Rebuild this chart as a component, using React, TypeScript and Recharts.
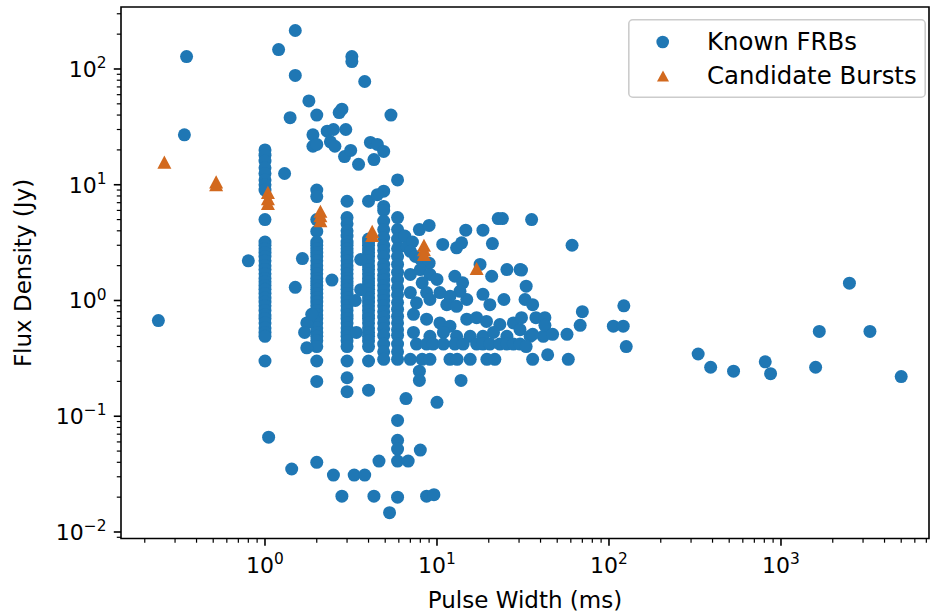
import React from 'react';
import { ScatterChart, Scatter, XAxis, YAxis, ReferenceArea, Legend } from 'recharts';

const BLUE = '#1f77b4';
const ORANGE = '#d2691e';
const FONT = 'DejaVu Sans, sans-serif';

// Known FRBs: dense vertical columns at fixed pulse widths (ms)
const columnWidths = [1.0, 2.0, 3.0, 4.0, 4.9, 5.9];
const columnFluxes = [
  [20, 18, 16, 14, 12.5, 11, 10, 9, 5.0, 3.2, 3.0, 2.8, 2.6, 2.4, 2.2, 2.0, 1.85, 1.7, 1.55, 1.45, 1.35, 1.25, 1.15, 1.05, 0.97, 0.9, 0.82, 0.75, 0.7, 0.64, 0.58, 0.53, 0.49, 0.3],
  [9.0, 7.9, 5.0, 3.95, 3.2, 3.0, 2.8, 2.6, 2.4, 2.2, 2.0, 1.85, 1.7, 1.55, 1.45, 1.35, 1.25, 1.15, 1.05, 0.97, 0.9, 0.82, 0.75, 0.7, 0.64, 0.58, 0.53, 0.49, 0.45, 0.4, 0.3, 0.2, 0.04],
  [7.2, 5.2, 4.6, 4.0, 3.6, 3.2, 3.0, 2.8, 2.6, 2.4, 2.2, 2.0, 1.85, 1.7, 1.55, 1.45, 1.35, 1.25, 1.15, 1.05, 0.97, 0.9, 0.82, 0.75, 0.7, 0.64, 0.58, 0.53, 0.49, 0.45, 0.4, 0.3, 0.215, 0.163],
  [7.2, 3.4, 3.2, 3.0, 2.8, 2.6, 2.4, 2.2, 2.0, 1.85, 1.7, 1.55, 1.45, 1.35, 1.25, 1.15, 1.05, 0.97, 0.9, 0.82, 0.75, 0.7, 0.64, 0.58, 0.53, 0.49, 0.45, 0.4, 0.3, 0.168],
  [8.8, 6.5, 6.0, 4.85, 4.1, 3.5, 3.0, 2.7, 2.4, 2.05, 1.85, 1.65, 1.5, 1.35, 1.22, 1.1, 1.0, 0.9, 0.8, 0.72, 0.64, 0.57, 0.5, 0.42, 0.36, 0.31],
  [11, 5.2, 4.1, 3.4, 2.8, 2.4, 2.05, 1.75, 1.5, 1.29, 1.12, 0.96, 0.84, 0.73, 0.64, 0.56, 0.5, 0.42, 0.36, 0.31, 0.092, 0.062, 0.052, 0.041, 0.02],
];

// Known FRBs: remaining individual points
const knownWidths = [
  0.35, 0.34, 0.24, 1.5, 1.2, 1.5, 1.8, 1.4, 2.0, 2.7, 2.8, 1.9, 1.9, 2.0, 2.3, 2.5, 2.4, 2.55, 2.95, 2.9, 3.15, 3.2, 3.2, 3.8, 5.4, 4.1, 4.5, 4.9, 3.5, 4.3, 4.5, 1.3,
  0.8, 1.65, 1.5, 2.45, 3.35, 3.4, 3.6, 3.6, 1.75, 1.7, 1.75, 1.87,
  6.5, 6.7, 7.2, 7.0, 7.5, 7.9, 9.0, 10.8, 13, 13.9, 14.7, 18.5, 21, 22.7, 24, 35.5, 17.8, 20.8, 25.5, 30.4, 33, 12.7, 14.1, 18.5, 20.3, 24.5, 32.5, 36, 14.9, 13.6,
  8.0, 9.0, 7.0, 8.0, 9.1, 10, 8.2, 7.0, 8.7, 10.4, 11.9, 7.6, 9.1, 11.4, 13, 7.3, 8.7, 10.4, 11.9, 14.9, 17, 19.4, 23.2, 27.8, 30.4, 7.3, 9.1, 10.9, 13, 15.6, 18.5, 21.3, 25.5, 34.8, 41.5,
  7.6, 8.7, 9.5, 10.9, 12.7, 14.2, 17, 18.5, 20.3, 23.2, 25.5, 27.8, 30.4, 33,
  7.0, 8.2, 9.1, 11.9, 13.1, 15.6, 19.5, 21.7, 36, 58,
  7.9, 7.9, 13.8, 6.6, 10, 8.0, 6.8, 4.6, 8.7, 9.6, 5.3, 4.3, 2.8, 2.5, 3.3, 3.8, 1.43, 1.05,
  61, 31, 70, 122, 31, 37.6, 42.4, 42.4, 68, 106, 121, 47, 57, 36, 126, 44,
  330, 390, 530, 810, 870, 1670, 1590, 2500, 3290, 5000,
];
const knownFluxes = [
  128, 27, 0.67, 215, 147, 88, 53, 38, 40, 42, 45, 27, 21.5, 22.3, 29, 30, 23.5, 21.5, 30, 17.5, 19.8, 128, 116, 78, 40, 23.2, 22.3, 19.4, 15, 16.5, 8.2, 12.5,
  2.2, 2.3, 1.3, 1.5, 1.0, 0.53, 2.26, 1.24, 0.64, 0.53, 0.39, 0.76,
  3.6, 2.9, 3.2, 2.66, 2.4, 4.1, 4.45, 3.05, 2.85, 3.15, 4.05, 4.05, 3.1, 5.1, 5.1, 5.0, 2.05, 1.62, 1.85, 1.85, 1.33, 1.62, 1.42, 1.13, 0.92, 1.02, 1.02, 0.92, 1.02, 1.2,
  2.3, 2.1, 1.68, 1.85, 1.68, 1.52, 1.42, 1.17, 1.17, 1.17, 1.09, 0.955, 1.02, 0.92, 0.89, 0.76, 0.69, 0.64, 0.6, 0.69, 0.71, 0.66, 0.62, 0.64, 0.56, 0.53, 0.49, 0.53, 0.49, 0.49, 0.49, 0.53, 0.49, 0.49, 0.49,
  0.42, 0.42, 0.42, 0.42, 0.42, 0.42, 0.42, 0.42, 0.42, 0.42, 0.42, 0.42, 0.42, 0.4,
  0.31, 0.31, 0.31, 0.31, 0.31, 0.31, 0.31, 0.31, 0.31, 0.31,
  0.245, 0.204, 0.204, 0.142, 0.132, 0.051, 0.041, 0.041, 0.0204, 0.021, 0.0147, 0.0204, 0.0204, 0.031, 0.031, 0.031, 0.035, 0.066,
  3.0, 1.83, 0.8, 0.9, 0.71, 0.71, 0.71, 0.61, 0.61, 0.6, 0.6, 0.51, 0.51, 0.51, 0.4, 0.34,
  0.345, 0.265, 0.245, 0.295, 0.233, 0.54, 0.265, 1.41, 0.54, 0.22,
];

// Candidate bursts
const candidateWidths = [0.26, 0.52, 0.52, 1.04, 1.04, 1.04, 2.1, 2.1, 2.1, 4.2, 4.2, 8.4, 8.4, 8.4, 17];
const candidateFluxes = [15.7, 10.6, 10.0, 8.6, 7.6, 6.9, 5.9, 5.4, 4.9, 3.95, 3.65, 3.0, 2.75, 2.5, 1.89];

// Axis ticks
const xMajorTicks = [1, 10, 100, 1000];
const xMinorTicks = [0.2, 0.3, 0.4, 0.5, 0.6, 0.7, 0.8, 0.9, 2, 3, 4, 5, 6, 7, 8, 9, 20, 30, 40, 50, 60, 70, 80, 90, 200, 300, 400, 500, 600, 700, 800, 900, 2000, 3000, 4000, 5000, 6000, 7000];
const yMajorTicks = [0.01, 0.1, 1, 10, 100];
const yMinorTicks = [0.009, 0.02, 0.03, 0.04, 0.05, 0.06, 0.07, 0.08, 0.09, 0.2, 0.3, 0.4, 0.5, 0.6, 0.7, 0.8, 0.9, 2, 3, 4, 5, 6, 7, 8, 9, 20, 30, 40, 50, 60, 70, 80, 90, 200, 300];

const X_DOMAIN = [0.1455, 7254];
const Y_DOMAIN = [0.008786, 343.2];

const knownData: { w: number; f: number }[] = [];
columnWidths.forEach((w, i) => columnFluxes[i].forEach((f) => knownData.push({ w, f })));
knownWidths.forEach((w, i) => knownData.push({ w, f: knownFluxes[i] }));
const candidateData = candidateWidths.map((w, i) => ({ w, f: candidateFluxes[i] }));

const isMajor = (v: number) => Math.abs(Math.log10(v) - Math.round(Math.log10(v))) < 1e-6;
const expText = (v: number) => {
  const e = Math.round(Math.log10(v));
  return e < 0 ? '\u2212' + Math.abs(e) : String(e);
};

const XTick = (props: any) => {
  const { x, y, payload } = props;
  const v = payload.value;
  const major = isMajor(v);
  return (
    <g>
      <line x1={x} x2={x} y1={y} y2={y + (major ? 7.2 : 4.2)} stroke="#000" strokeWidth={major ? 1.6 : 1.2} />
      {major && (
        <text x={x} y={y + 34.5} textAnchor="middle" fontSize={22} fontFamily={FONT} fill="#000">
          <tspan>10</tspan>
          <tspan dy={-8.8} fontSize={15.4}>{expText(v)}</tspan>
        </text>
      )}
    </g>
  );
};

const YTick = (props: any) => {
  const { x, y, payload } = props;
  const v = payload.value;
  const major = isMajor(v);
  return (
    <g>
      <line x1={x} x2={x - (major ? 7.2 : 4.2)} y1={y} y2={y} stroke="#000" strokeWidth={major ? 1.6 : 1.2} />
      {major && (
        <text x={x - 14.5} y={y + 8} textAnchor="end" fontSize={22} fontFamily={FONT} fill="#000">
          <tspan>10</tspan>
          <tspan dy={-8.8} fontSize={15.4}>{expText(v)}</tspan>
        </text>
      )}
    </g>
  );
};

const Dot = (p: any) => <circle cx={p.cx} cy={p.cy} r={6.5} fill={BLUE} />;
const Tri = (p: any) => {
  const { cx, cy } = p;
  const h = 6.6;
  const hw = 7;
  return <path d={`M${cx},${cy - h}L${cx + hw},${cy + h}L${cx - hw},${cy + h}Z`} fill={ORANGE} />;
};

const LegendBox = () => (
  <svg width={298} height={80} style={{ display: 'block' }}>
    <rect x={0.8} y={0.8} width={296.4} height={77.4} rx={4} ry={4} fill="#fff" fillOpacity={0.8} stroke="#cccccc" strokeWidth={1.6} />
    <circle cx={34.7} cy={23} r={6.3} fill={BLUE} />
    <text x={79} y={30.5} fontSize={24.4} fontFamily={FONT} fill="#000">Known FRBs</text>
    <path d="M35,51.5L41,62.5L29,62.5Z" fill={ORANGE} />
    <text x={79} y={64.5} fontSize={24.4} fontFamily={FONT} fill="#000">Candidate Bursts</text>
  </svg>
);

export default function App() {
  return (
    <div style={{ position: 'absolute', left: 0, top: 0, width: 930, height: 615, background: '#fff' }}>
      <ScatterChart width={930} height={615} margin={{ top: 7, right: 1, bottom: 0, left: 0 }}>
        <XAxis
          type="number"
          dataKey="w"
          scale="log"
          domain={X_DOMAIN}
          allowDataOverflow
          ticks={[...xMajorTicks, ...xMinorTicks].sort((a, b) => a - b)}
          interval={0}
          tickSize={0}
          tickMargin={0}
          tickLine={false}
          axisLine={false}
          height={76.5}
          tick={<XTick />}
          label={() => (
            <text x={525} y={608} textAnchor="middle" fontSize={23} fontFamily={FONT} fill="#000">
              Pulse Width (ms)
            </text>
          )}
        />
        <YAxis
          type="number"
          dataKey="f"
          scale="log"
          domain={Y_DOMAIN}
          allowDataOverflow
          ticks={[...yMajorTicks, ...yMinorTicks].sort((a, b) => a - b)}
          interval={0}
          tickSize={0}
          tickMargin={0}
          tickLine={false}
          axisLine={false}
          width={121}
          tick={<YTick />}
          label={() => (
            <text x={31} y={273} textAnchor="middle" fontSize={23} fontFamily={FONT} fill="#000" transform="rotate(-90, 31, 273)">
              Flux Density (Jy)
            </text>
          )}
        />
        <Scatter name="Known FRBs" data={knownData} shape={<Dot />} isAnimationActive={false} />
        <Scatter name="Candidate Bursts" data={candidateData} shape={<Tri />} isAnimationActive={false} />
        <ReferenceArea x1={X_DOMAIN[0]} x2={X_DOMAIN[1]} y1={Y_DOMAIN[0]} y2={Y_DOMAIN[1]} fill="none" stroke="#000" strokeWidth={1.6} ifOverflow="visible" />
        <Legend
          layout="vertical"
          align="center"
          verticalAlign="middle"
          wrapperStyle={{ position: 'absolute', left: 628, top: 19, width: 298, height: 80 }}
          content={() => <LegendBox />}
        />
      </ScatterChart>
    </div>
  );
}
